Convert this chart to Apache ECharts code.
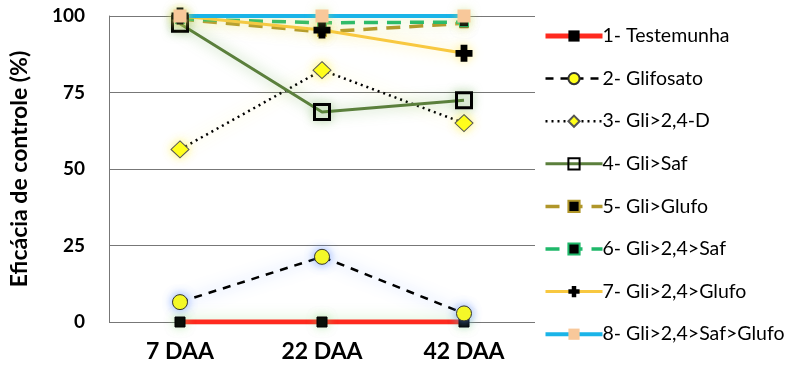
<!DOCTYPE html>
<html><head><meta charset="utf-8">
<script src="https://cdn.jsdelivr.net/npm/echarts@6/dist/echarts.min.js"></script>
<style>html,body{margin:0;padding:0;background:#fff}#c{width:790px;height:370px}</style>
</head><body><div id="c"></div>
<script>
const categories = ['7 DAA', '22 DAA', '42 DAA'];
const yTicks = [0, 25, 50, 75, 100];
const names = ['1- Testemunha','2- Glifosato','3- Gli>2,4-D','4- Gli>Saf','5- Gli>Glufo','6- Gli>2,4>Saf','7- Gli>2,4>Glufo','8- Gli>2,4>Saf>Glufo'];
const s1 = [0, 0, 0];
const s2 = [6.5, 21.3, 2.8];
const s3 = [56.4, 82.3, 65];
const s4 = [97.5, 68.6, 72.5];
const s5 = [99, 94.8, 97.6];
const s6 = [99, 97.8, 98];
const s7 = [100, 95.4, 87.8];
const s8 = [100, 100, 100];

const FONT = 'Lato';
const plus = 'path://M3,0H7V3H10V7H7V10H3V7H0V3H3Z';
function mk(name, data, line, sym, item, glow){
  const s = {name, type:'line', data, symbol: sym.symbol, symbolSize: sym.size,
    lineStyle: Object.assign({}, line), itemStyle: Object.assign({opacity:1}, item),
    emphasis:{disabled:true}, animation:false};
  if (glow){ s.lineStyle.shadowColor = glow; s.lineStyle.shadowBlur = 14; s.itemStyle.shadowColor = glow; s.itemStyle.shadowBlur = 10; }
  return s;
}
const series = [
  mk(names[0], s1, {color:'#ff2a1f', width:5}, {symbol:'rect', size:10}, {color:'#000', borderColor:'#000'}, 'rgba(140,220,120,0.5)'),
  mk(names[1], s2, {color:'#000', width:2.5, type:[8,7]}, {symbol:'circle', size:15}, {color:'#ffff1a', borderColor:'#333', borderWidth:1}, 'rgba(90,140,255,0.7)'),
  mk(names[2], s3, {color:'#000', width:2.5, type:[2,4]}, {symbol:'diamond', size:[18,17]}, {color:'#ffff1a', borderColor:'#555', borderWidth:1}, 'rgba(255,240,60,0.7)'),
  mk(names[3], s4, {color:'#5b7f3c', width:3}, {symbol:'rect', size:15}, {color:'rgba(255,255,255,0)', borderColor:'#000', borderWidth:3}, 'rgba(90,160,60,0.6)'),
  mk(names[4], s5, {color:'#b0962a', width:3.5, type:[14,9]}, {symbol:'rect', size:9}, {color:'#000', borderColor:'#b0962a', borderWidth:1}, 'rgba(220,220,100,0.5)'),
  mk(names[5], s6, {color:'#1fb86a', width:3.5, type:[14,9]}, {symbol:'rect', size:9}, {color:'#000', borderColor:'#1fb86a', borderWidth:1}, null),
  mk(names[6], s7, {color:'#f8c840', width:3}, {symbol:plus, size:17}, {color:'#000'}, 'rgba(255,230,80,0.6)'),
  mk(names[7], s8, {color:'#1ab4e8', width:4}, {symbol:'rect', size:13}, {color:'#f8c89a'}, 'rgba(200,230,120,0.5)')
];
const chart = echarts.init(document.getElementById('c'), null, {renderer:'canvas'});
chart.setOption({
  backgroundColor:'#fff',
  animation:false,
  grid:{left:106, right:255, top:16, bottom:48, containLabel:false},
  xAxis:{type:'category', data:categories, boundaryGap:true,
    axisLine:{show:false}, axisTick:{show:false},
    axisLabel:{color:'#000', fontFamily:FONT, fontWeight:'bold', fontSize:23, margin:18}},
  yAxis:{type:'value', min:yTicks[0], max:yTicks[yTicks.length-1], interval:25,
    name:'Eficácia de controle (%)', nameLocation:'middle', nameGap:78,
    nameTextStyle:{color:'#000', fontFamily:FONT, fontWeight:'bold', fontSize:23},
    axisLine:{show:true, lineStyle:{color:'#777', width:1}}, axisTick:{show:false},
    axisLabel:{color:'#000', fontFamily:FONT, fontWeight:'bold', fontSize:19, margin:24},
    splitLine:{lineStyle:{color:'#777', width:1}}},
  legend:{orient:'vertical', left:543, top:26, height:345, padding:0, itemWidth:57, itemHeight:14, itemGap:22.6,
    lineStyle:{width:'inherit'},
    textStyle:{color:'#000', fontFamily:FONT, fontSize:19.5, padding:[0,0,0,-5]}, selectedMode:false,
    data:names},
  series
});
</script></body></html>
